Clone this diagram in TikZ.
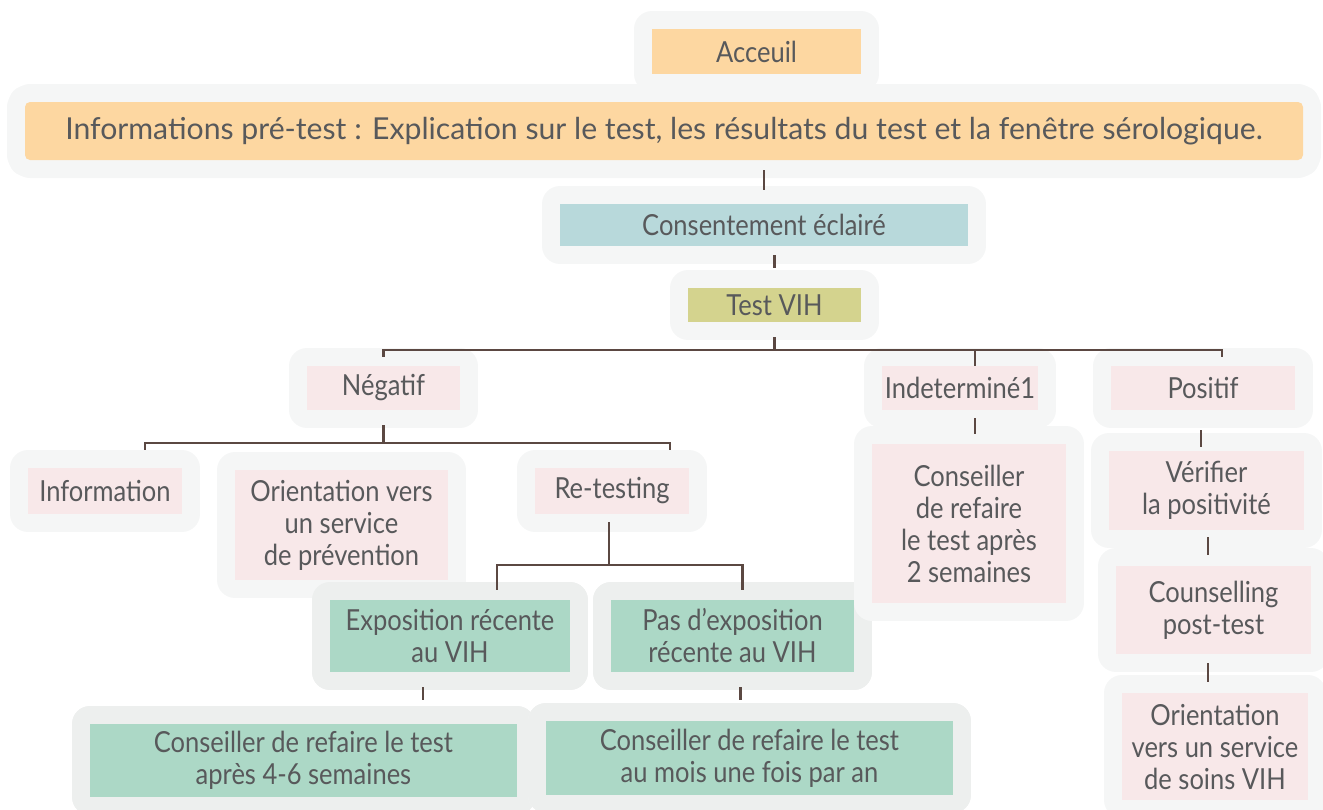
\documentclass[tikz,border=0pt]{standalone}
\usepackage{fontspec}
\setmainfont{Lato}[FakeStretch=0.88]
\newfontfamily\infofont{Lato}
\usepackage{xcolor}

\definecolor{halo}{HTML}{F5F6F6}
\definecolor{halogreen}{HTML}{EDEFEE}
\definecolor{peach}{HTML}{FDD7A1}
\definecolor{teal}{HTML}{B8D9DB}
\definecolor{olive}{HTML}{D4D38E}
\definecolor{rose}{HTML}{F8E8E9}
\definecolor{mint}{HTML}{ACD8C6}
\definecolor{txt}{HTML}{58595B}
\definecolor{wire}{HTML}{5B4842}

\begin{document}
\begin{tikzpicture}[x=1pt, y=-1pt,
    box/.style={rectangle, inner sep=0pt, align=center, text=txt,
      font=\fontsize{29}{32}\selectfont,
      preaction={draw=halo, line width=36pt, line join=round}},
    boxg/.style={box, preaction={draw=halogreen, line width=36pt, line join=round}},
    link/.style={draw=wire, line width=2.6pt}]
  \useasboundingbox (0,0) rectangle (1323,809);

  % top of the flow
  \node[box, fill=peach, minimum width=209pt, minimum height=45pt](acc) at (756.5, 51.5) {Acceuil};
  \node[box, fill=peach, rounded corners=5pt, minimum width=1278pt, minimum height=58pt,
    preaction={draw=halo, line width=24pt, line join=round},
    font=\infofont\fontsize{30.2}{32}\selectfont](info) at (664, 131) {Informations pré-test : Explication sur le test, les résultats du test et la fenêtre sérologique.};
  \node[box, fill=teal, minimum width=408pt, minimum height=42pt](cons) at (764, 225) {Consentement éclairé};
  \node[box, fill=olive, minimum width=173pt, minimum height=34pt](test) at (774.5, 305) {Test VIH};

  % results
  \node[box, fill=rose, minimum width=153pt, minimum height=44pt](neg) at (383.5, 388) {Négatif};
  \node[box, fill=rose, minimum width=156pt, minimum height=44pt](ind) at (960, 388) {Indeterminé1};
  \node[box, fill=rose, minimum width=184pt, minimum height=44pt](pos) at (1203, 388) {Positif};

  % negative branch
  \node[box, fill=rose, minimum width=154pt, minimum height=46pt](inf) at (105, 491) {Information};
  \node[box, fill=rose, minimum width=213pt, minimum height=110pt](orient) at (341.5, 525) {Orientation vers\\un service\\de prévention};
  \node[box, fill=rose, minimum width=154pt, minimum height=46pt](retest) at (612, 491) {Re-testing};
  \node[boxg, fill=mint, minimum width=240pt, minimum height=72pt](expo) at (450, 636) {Exposition récente\\au VIH};
  \node[boxg, fill=mint, minimum width=243pt, minimum height=72pt](noexpo) at (732.5, 636) {Pas d'exposition\\récente au VIH};
  \node[boxg, fill=mint, minimum width=427pt, minimum height=73pt](redo46) at (303.5, 760.5) {Conseiller de refaire le test\\après 4-6 semaines};
  \node[boxg, fill=mint, minimum width=407pt, minimum height=74pt](redoyear) at (749.5, 758) {Conseiller de refaire le test\\au mois une fois par an};

  % indeterminate and positive branches
  \node[box, fill=rose, minimum width=194pt, minimum height=159pt](redo2) at (969, 523.5) {Conseiller\\de refaire\\le test après\\2 semaines};
  \node[box, fill=rose, minimum width=195pt, minimum height=79pt](verif) at (1206.5, 490.5) {Vérifier\\la positivité};
  \node[box, fill=rose, minimum width=195pt, minimum height=88pt](counsel) at (1213.5, 610) {Counselling\\post-test};
  \node[box, fill=rose, minimum width=186pt, minimum height=107pt](care) at (1215, 746.5) {Orientation\\vers un service\\de soins VIH};

  \coordinate(busA) at (0, 350);
  \coordinate(busB) at (0, 443);
  \coordinate(busC) at (0, 565);

  % connectors
  \draw[link, shorten <=10pt, shorten >=14pt] (info.south -| cons.north) -- (cons.north);
  \draw[link, shorten <=9pt, shorten >=20pt] (cons.south -| test.north) -- (test.north);
  \draw[link, shorten <=15pt] (test.south) -- (test.south |- busA);
  \draw[link] ([yshift=9pt]neg.north) |- ([xshift=19pt]pos.north |- busA) -- ([xshift=19pt, yshift=9pt]pos.north);
  \draw[link] ([xshift=15pt]ind.north |- busA) -- ([xshift=15pt]ind.north);

  \draw[link, shorten <=15pt] (neg.south) -- (neg.south |- busB);
  \draw[link] ([xshift=40pt, yshift=18pt]inf.north) |- ([xshift=58pt]retest.north |- busB) -- ([xshift=58pt, yshift=18pt]retest.north);

  \draw[link, shorten <=8pt] ([xshift=-3pt]retest.south) -- ([xshift=-3pt]retest.south |- busC);
  \draw[link] ([xshift=47pt, yshift=10pt]expo.north) |- ([xshift=10pt]noexpo.north |- busC) -- ([xshift=10pt, yshift=10pt]noexpo.north);

  \draw[link, shorten <=15pt, shorten >=24pt] ([xshift=-27pt]expo.south) -- ([xshift=-27pt]expo.south |- redo46.north);
  \draw[link, shorten <=15pt, shorten >=21pt] ([xshift=8pt]noexpo.south) -- ([xshift=8pt]noexpo.south |- redoyear.north);

  \draw[link, shorten <=8pt, shorten >=10pt] ([xshift=15pt]ind.south) -- ([xshift=15pt]ind.south |- redo2.north);
  \draw[link, shorten <=20pt, shorten >=4pt] ([xshift=-2pt]pos.south) -- ([xshift=-2pt]pos.south |- verif.north);
  \draw[link, shorten <=7pt, shorten >=11pt] ([xshift=1.5pt]verif.south) -- ([xshift=1.5pt]verif.south |- counsel.north);
  \draw[link, shorten <=9pt, shorten >=11pt] ([xshift=-5.5pt]counsel.south) -- ([xshift=-5.5pt]counsel.south |- care.north);
\end{tikzpicture}
\end{document}
